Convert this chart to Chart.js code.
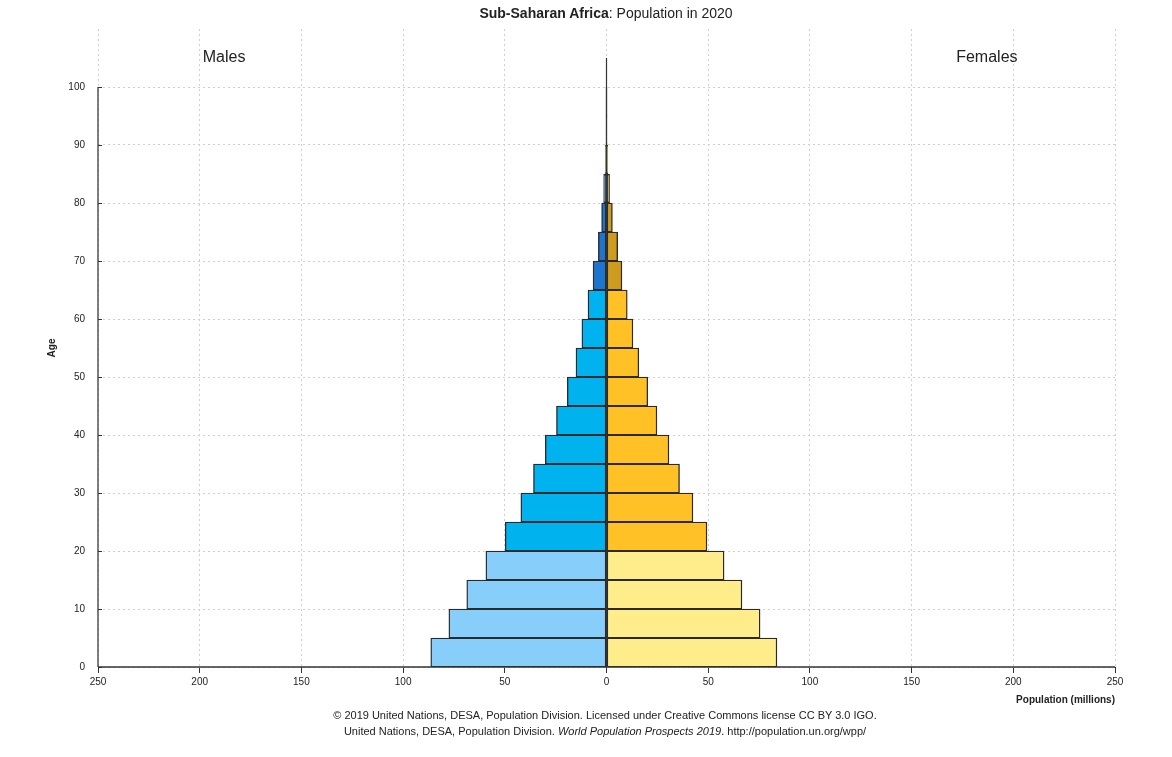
<!DOCTYPE html>
<html>
<head>
<meta charset="utf-8">
<script src="https://cdn.jsdelivr.net/npm/chart.js@4"></script>
<style>
  html, body { margin: 0; padding: 0; background: #fff; }
  #wrap { position: relative; width: 1172px; height: 757px; font-family: "Liberation Sans", Arial, sans-serif; color: #222; }
  #pyramid { position: absolute; left: 0; top: 0; }
  .title { position: absolute; left: 0; width: 1212px; top: 5px; text-align: center; font-size: 14px; }
  .foot { position: absolute; left: 0; width: 1210px; text-align: center; font-size: 11px; color: #222; }
</style>
</head>
<body>
<div id="wrap">
  <canvas id="pyramid" width="1172" height="757"></canvas>
  <div class="title"><b>Sub-Saharan Africa</b>: Population in 2020</div>
  <div class="foot" style="top:709px">&copy; 2019 United Nations, DESA, Population Division. Licensed under Creative Commons license CC BY 3.0 IGO.</div>
  <div class="foot" style="top:725px">United Nations, DESA, Population Division. <i>World Population Prospects 2019</i>. http://population.un.org/wpp/</div>
</div>
<script>
// age groups (start of each 5-year group)
const ageGroups = ["0-4", "5-9", "10-14", "15-19", "20-24", "25-29", "30-34", "35-39", "40-44",
    "45-49", "50-54", "55-59", "60-64", "65-69", "70-74", "75-79", "80-84", "85-89", "90-94", "95-99", "100+"];
const ageStarts = [0, 5, 10, 15, 20, 25, 30, 35, 40, 45, 50, 55, 60, 65, 70, 75, 80, 85, 90, 95, 100];

// population in millions
const males = [86.4, 77.5, 68.7, 59.3, 49.8, 42.1, 35.9, 30.1, 24.6, 19.3, 15.0, 12.1, 9.1,
    6.6, 4.0, 2.4, 1.4, 0.5, 0.12, 0.02, 0.0];
const females = [83.8, 75.5, 66.6, 57.8, 49.4, 42.5, 35.9, 30.7, 24.8, 20.3, 15.9, 13.0, 10.2,
    7.6, 5.5, 2.9, 1.5, 0.6, 0.15, 0.03, 0.0];

const xTicks = [-250, -200, -150, -100, -50, 0, 50, 100, 150, 200, 250];
const yTicks = [0, 10, 20, 30, 40, 50, 60, 70, 80, 90, 100];

function colourFor(start, young, adult, old) {
    if (start < 20) return young;
    if (start < 65) return adult;
    return old;
}

const maleColours = ageStarts.map(a => colourFor(a, "#87cefa", "#00b2ee", "#1c76cf"));
const femaleColours = ageStarts.map(a => colourFor(a, "#ffec8b", "#ffc125", "#cd9b1d"));

const maleData = males.map((v, i) => ({ x: -v, y: ageStarts[i] + 2.5 }));
const femaleData = females.map((v, i) => ({ x: v, y: ageStarts[i] + 2.5 }));

const extras = {
    id: "extras",
    afterDatasetsDraw(chart) {
        const c = chart.ctx;
        const xs = chart.scales.x;
        const ys = chart.scales.y;
        const area = chart.chartArea;
        const top = ageStarts[ageStarts.length - 1] + 5;
        c.save();
        // centre line
        c.strokeStyle = "#333";
        c.lineWidth = 1.2;
        c.beginPath();
        c.moveTo(xs.getPixelForValue(0), ys.getPixelForValue(0));
        c.lineTo(xs.getPixelForValue(0), ys.getPixelForValue(top));
        c.stroke();
        // y axis line 0..100
        c.strokeStyle = "#555";
        c.lineWidth = 1.5;
        c.beginPath();
        c.moveTo(area.left, ys.getPixelForValue(0));
        c.lineTo(area.left, ys.getPixelForValue(100));
        c.stroke();
        // small inner y ticks
        c.strokeStyle = "#333";
        c.lineWidth = 1;
        yTicks.forEach(t => {
            const py = Math.round(ys.getPixelForValue(t)) + 0.5;
            c.beginPath();
            c.moveTo(area.left, py);
            c.lineTo(area.left + 4, py);
            c.stroke();
        });
        // x axis line
        c.strokeStyle = "#333";
        c.lineWidth = 1.5;
        c.beginPath();
        c.moveTo(area.left, area.bottom);
        c.lineTo(area.right, area.bottom);
        c.stroke();
        // Males / Females
        c.fillStyle = "#222";
        c.font = "16px 'Liberation Sans', Arial, sans-serif";
        c.textAlign = "center";
        c.textBaseline = "middle";
        c.fillText("Males", xs.getPixelForValue(-188), ys.getPixelForValue(105));
        c.fillText("Females", xs.getPixelForValue(187), ys.getPixelForValue(105));
        c.restore();
    }
};

new Chart(document.getElementById("pyramid"), {
    type: "bar",
    data: {
        datasets: [
            {
                label: "Males",
                data: maleData,
                backgroundColor: maleColours,
                borderColor: "#2b2b2b",
                borderWidth: 1.4,
                borderSkipped: false,
                grouped: false,
                barPercentage: 1,
                categoryPercentage: 1
            },
            {
                label: "Females",
                data: femaleData,
                backgroundColor: femaleColours,
                borderColor: "#2b2b2b",
                borderWidth: 1.4,
                borderSkipped: false,
                grouped: false,
                barPercentage: 1,
                categoryPercentage: 1
            }
        ]
    },
    options: {
        indexAxis: "y",
        responsive: false,
        animation: false,
        layout: { padding: { top: 29, left: 42, right: 57, bottom: 51 } },
        plugins: {
            legend: { display: false },
            tooltip: { enabled: false }
        },
        scales: {
            x: {
                type: "linear",
                min: -250,
                max: 250,
                afterBuildTicks(scale) { scale.ticks = xTicks.map(v => ({ value: v })); },
                afterFit(scale) { scale.height = 39; },
                border: { display: false, dash: [2, 3] },
                grid: {
                    color: "#d0d0d0",
                    tickColor: "#333",
                    tickBorderDash: [],
                    tickLength: 6
                },
                ticks: {
                    color: "#222",
                    font: { size: 10, family: "'Liberation Sans', Arial, sans-serif" },
                    padding: 3,
                    maxRotation: 0,
                    callback: v => Math.abs(v)
                },
                title: {
                    display: true,
                    text: "Population (millions)",
                    align: "end",
                    color: "#222",
                    padding: { top: 0, bottom: 0 },
                    font: { size: 10, weight: "bold", family: "'Liberation Sans', Arial, sans-serif" }
                }
            },
            y: {
                type: "linear",
                min: 0,
                max: 110,
                offset: false,
                afterBuildTicks(scale) { scale.ticks = yTicks.map(v => ({ value: v })); },
                afterFit(scale) { scale.width = 56; },
                border: { display: false, dash: [2, 3] },
                grid: {
                    color: "#d0d0d0",
                    offset: false,
                    drawTicks: false
                },
                ticks: {
                    color: "#222",
                    font: { size: 10, family: "'Liberation Sans', Arial, sans-serif" },
                    padding: 13
                },
                title: {
                    display: true,
                    text: "Age",
                    color: "#222",
                    font: { size: 10, weight: "bold", family: "'Liberation Sans', Arial, sans-serif" }
                }
            }
        }
    },
    plugins: [extras]
});
</script>
</body>
</html>
